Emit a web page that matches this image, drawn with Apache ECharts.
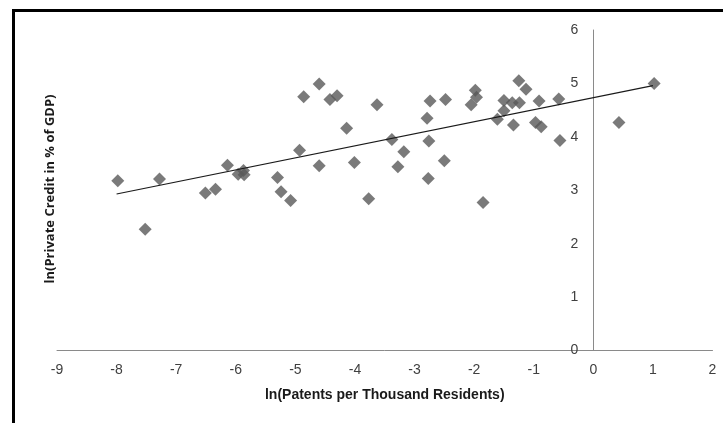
<!DOCTYPE html>
<html>
<head>
<meta charset="utf-8">
<script src="https://cdn.jsdelivr.net/npm/echarts@6/dist/echarts.min.js"></script>
<style>
html,body{margin:0;padding:0;background:#fff;}
#chart{width:723px;height:423px;}
</style>
</head>
<body>
<div id="chart"></div>
<script>
// ln(Patents per Thousand Residents)
const patents = [
  -7.98, -7.52, -7.28, -6.51, -6.34, -6.14, -5.96, -5.87, -5.86, -5.30,
  -5.24, -5.08, -4.93, -4.86, -4.60, -4.60, -4.42, -4.30, -4.14, -4.01,
  -3.77, -3.63, -3.38, -3.28, -3.18, -2.77, -2.76, -2.79, -2.74, -2.50,
  -2.48, -2.05, -1.96, -1.98, -1.85, -1.61, -1.50, -1.50, -1.36, -1.34,
  -1.24, -1.25, -1.13, -0.91, -0.97, -0.875, -0.58, -0.56, 0.43, 1.02
];
// ln(Private Credit in % of GDP)
const credit = [
  3.18, 2.27, 3.21, 2.95, 3.02, 3.47, 3.30, 3.37, 3.29, 3.24,
  2.97, 2.81, 3.75, 4.75, 4.99, 3.46, 4.70, 4.77, 4.16, 3.52,
  2.84, 4.60, 3.95, 3.44, 3.72, 3.22, 3.92, 4.35, 4.67, 3.55,
  4.70, 4.60, 4.74, 4.87, 2.77, 4.33, 4.49, 4.68, 4.64, 4.22,
  4.64, 5.05, 4.89, 4.67, 4.27, 4.19, 4.71, 3.93, 4.27, 5.00
];
// linear trend line endpoints (x, y)
const trendX = [-8, 1];
const trendY = [2.93, 4.96];
const xTicks = [-9, 2, 1];  // min, max, interval
const yTicks = [0, 6, 1];
const xTitle = 'ln(Patents per Thousand Residents)';
const yTitle = 'ln(Private Credit in % of GDP)';

const points = patents.map((x, i) => [x, credit[i]]);
const trend = trendX.map((x, i) => [x, trendY[i]]);

const W = 723, gridLeft = 57, gridRight = 10.5;
const gridWidth = W - gridLeft - gridRight;
// shift the vertical axis so it crosses the x axis at x = 0
const yAxisOffset = -(0 - xTicks[0]) / (xTicks[1] - xTicks[0]) * gridWidth;

const chart = echarts.init(document.getElementById('chart'));
chart.setOption({
  animation: false,
  backgroundColor: '#ffffff',
  grid: {left: gridLeft, right: gridRight, top: 30, bottom: 72.5, containLabel: false, outerBoundsMode: 'none'},
  xAxis: {
    type: 'value', min: xTicks[0], max: xTicks[1], interval: xTicks[2],
    axisLine: {onZero: true, lineStyle: {color: '#8a8a8a', width: 1}},
    axisTick: {show: false},
    splitLine: {show: false},
    axisLabel: {color: '#404040', fontSize: 14, fontFamily: 'Liberation Sans Narrow, Liberation Sans, sans-serif', margin: 13},
    name: xTitle, nameLocation: 'middle', nameGap: 38,
    nameTextStyle: {color: '#1a1a1a', fontSize: 14, fontWeight: 'bold', fontFamily: 'Liberation Sans Narrow, Liberation Sans, sans-serif'}
  },
  yAxis: {
    type: 'value', min: yTicks[0], max: yTicks[1], interval: yTicks[2],
    position: 'left', offset: yAxisOffset,
    axisLine: {show: true, onZero: false, lineStyle: {color: '#8a8a8a', width: 1}},
    axisTick: {show: false},
    splitLine: {show: false},
    axisLabel: {color: '#404040', fontSize: 14, fontFamily: 'Liberation Sans Narrow, Liberation Sans, sans-serif', margin: 15}
  },
  graphic: [
    {type: 'rect', shape: {x: 12, y: 9, width: 711, height: 3}, style: {fill: '#000'}, silent: true},
    {type: 'rect', shape: {x: 12, y: 9, width: 3, height: 414}, style: {fill: '#000'}, silent: true},
    {type: 'text', x: 50, y: 189, rotation: Math.PI / 2,
     style: {text: yTitle, fill: '#1a1a1a', font: 'bold 13px "Open Sans", sans-serif', align: 'center', verticalAlign: 'middle'},
     silent: true}
  ],
  series: [
    {
      type: 'scatter', data: points, symbol: 'diamond', symbolSize: 13,
      itemStyle: {color: '#595959'}, z: 2
    },
    {
      type: 'line', data: trend, symbol: 'none',
      lineStyle: {color: '#1a1a1a', width: 1.2}, z: 3
    }
  ]
});
</script>
</body>
</html>
